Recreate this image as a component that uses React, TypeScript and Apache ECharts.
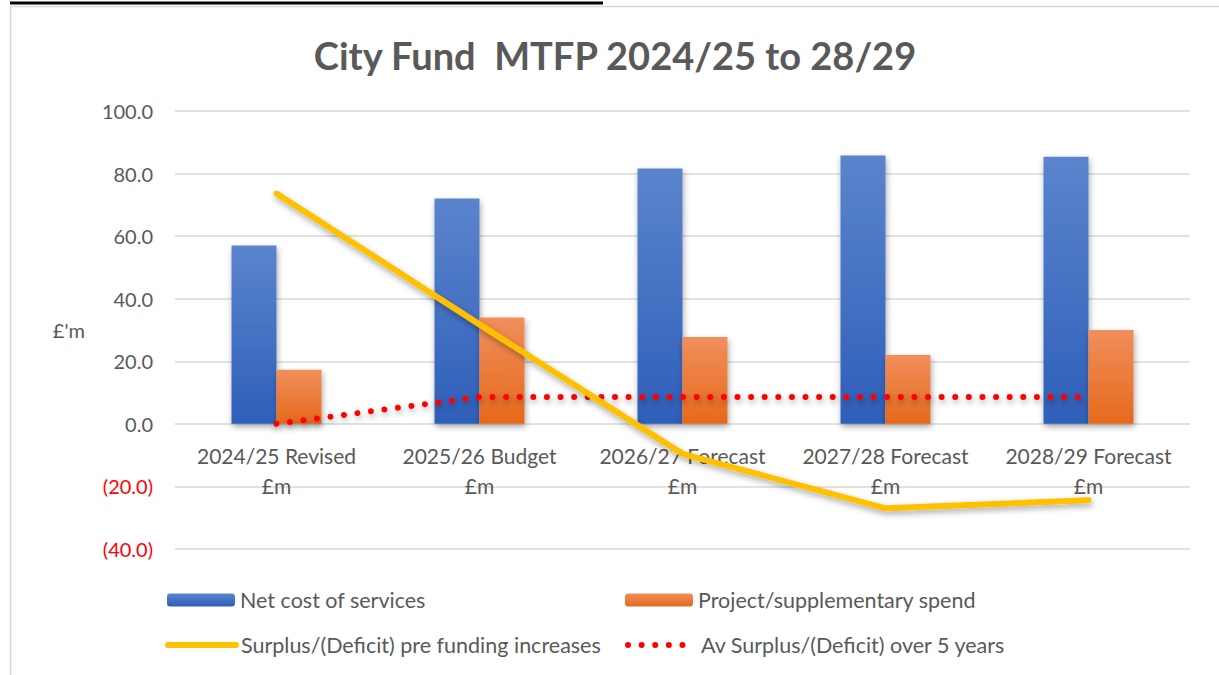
import React, { useEffect, useRef } from "react";
import * as echarts from "echarts";

const categories = [
  "2024/25 Revised\n£m",
  "2025/26 Budget\n£m",
  "2026/27 Forecast\n£m",
  "2027/28 Forecast\n£m",
  "2028/29 Forecast\n£m",
];
const netCost = [57.0, 72.0, 81.6, 85.8, 85.4];
const projectSpend = [17.3, 34.0, 27.8, 22.0, 30.0];
const surplus = [73.6, 31.8, -9.6, -27.0, -24.4];
const avSurplus = [0, 8.6, 8.6, 8.6, 8.6];

const FONT = "Lato, 'Open Sans', sans-serif";
const TXT = "#595959";
const LEG_FS = 21.5;

export default function App() {
  const ref = useRef<HTMLDivElement>(null);
  useEffect(() => {
    document.body.style.margin = "0";
    const chart = echarts.init(ref.current!, null, { renderer: "svg" });
    const shadow = {
      shadowBlur: 6,
      shadowColor: "rgba(0,0,0,0.35)",
      shadowOffsetX: 1,
      shadowOffsetY: 3,
    };
    const legendBase = {
      orient: "horizontal",
      itemWidth: 68,
      itemHeight: 13,
      padding: 0,
      textStyle: { color: TXT, fontSize: LEG_FS, fontFamily: FONT },
    };
    const dotted = [0.01, 13.6];
    chart.setOption({
      animation: false,
      backgroundColor: "#ffffff",
      textStyle: { fontFamily: FONT },
      graphic: [
        {
          type: "line",
          shape: { x1: 10, y1: 3, x2: 603, y2: 3 },
          style: { stroke: "#000000", lineWidth: 3 },
        },
        {
          type: "rect",
          shape: { x: 10.5, y: 6.5, width: 1300, height: 700 },
          style: { fill: "none", stroke: "#d9d9d9", lineWidth: 1.5 },
          z: -1,
        },
        {
          type: "text",
          x: 615,
          y: 55,
          style: {
            text: "City Fund  MTFP 2024/25 to 28/29",
            fontFamily: FONT,
            fontSize: 38,
            fontWeight: "bold",
            fill: TXT,
            align: "center",
            verticalAlign: "middle",
          },
        },
      ],
      grid: { left: 175, right: 29, top: 111, bottom: 126, containLabel: false },
      legend: [
        { ...legendBase, data: ["Net cost of services"], left: 167, top: 589 },
        { ...legendBase, data: ["Project/supplementary spend"], left: 625, top: 589 },
        {
          ...legendBase,
          data: [
            {
              name: "Surplus/(Deficit) pre funding increases",
              itemStyle: { opacity: 0 },
              lineStyle: { color: "#ffc000", width: 6, cap: "round" },
            },
          ],
          left: 165,
          top: 634,
        },
        {
          ...legendBase,
          data: [
            {
              name: "Av Surplus/(Deficit) over 5 years",
              itemStyle: { opacity: 0 },
              lineStyle: { color: "#ff0000", width: 6, type: dotted, cap: "round" },
            },
          ],
          left: 625,
          top: 634,
        },
      ],
      xAxis: {
        type: "category",
        data: categories,
        offset: -125,
        axisLine: { show: false },
        axisTick: { show: false },
        axisLabel: {
          interval: 0,
          hideOverlap: false,
          color: TXT,
          fontSize: 21,
          lineHeight: 30,
          margin: 16,
          fontFamily: FONT,
        },
      },
      yAxis: {
        type: "value",
        min: -40,
        max: 100,
        interval: 20,
        name: "£'m",
        nameLocation: "middle",
        nameRotate: 0,
        nameGap: 90,
        nameTextStyle: { color: TXT, fontSize: 20, fontFamily: FONT },
        axisLine: { show: false },
        axisTick: { show: false },
        splitLine: { lineStyle: { color: "#d9d9d9", width: 1.5 } },
        axisLabel: {
          margin: 22,
          fontSize: 20,
          color: TXT,
          fontFamily: FONT,
          formatter: (v: number) =>
            v < 0 ? `{neg|(${Math.abs(v).toFixed(1)})}` : v.toFixed(1),
          rich: { neg: { color: "#ff0000", fontSize: 20, fontFamily: FONT } },
        },
      },
      series: [
        {
          name: "Net cost of services",
          type: "bar",
          data: netCost,
          barWidth: 45,
          barGap: "0%",
          itemStyle: {
            color: new echarts.graphic.LinearGradient(0, 0, 0, 1, [
              { offset: 0, color: "#5b84cd" },
              { offset: 1, color: "#2e5fb9" },
            ]),
            ...shadow,
          },
          z: 2,
        },
        {
          name: "Project/supplementary spend",
          type: "bar",
          data: projectSpend,
          barWidth: 45,
          barGap: "0%",
          itemStyle: {
            color: new echarts.graphic.LinearGradient(0, 0, 0, 1, [
              { offset: 0, color: "#f18f5c" },
              { offset: 1, color: "#e5691b" },
            ]),
            ...shadow,
          },
          z: 2,
        },
        {
          name: "Surplus/(Deficit) pre funding increases",
          type: "line",
          data: surplus,
          symbol: "none",
          lineStyle: { color: "#ffc000", width: 6, cap: "round", join: "round", ...shadow },
          itemStyle: { color: "#ffc000" },
          z: 4,
        },
        {
          name: "Av Surplus/(Deficit) over 5 years",
          type: "line",
          data: avSurplus,
          symbol: "none",
          lineStyle: {
            color: "#ff0000",
            width: 6,
            type: dotted,
            cap: "round",
            ...shadow,
          },
          itemStyle: { color: "#ff0000" },
          z: 3,
        },
      ],
    });
    return () => chart.dispose();
  }, []);
  return (
    <div
      ref={ref}
      style={{ position: "absolute", left: 0, top: 0, width: 1219, height: 675 }}
    />
  );
}
